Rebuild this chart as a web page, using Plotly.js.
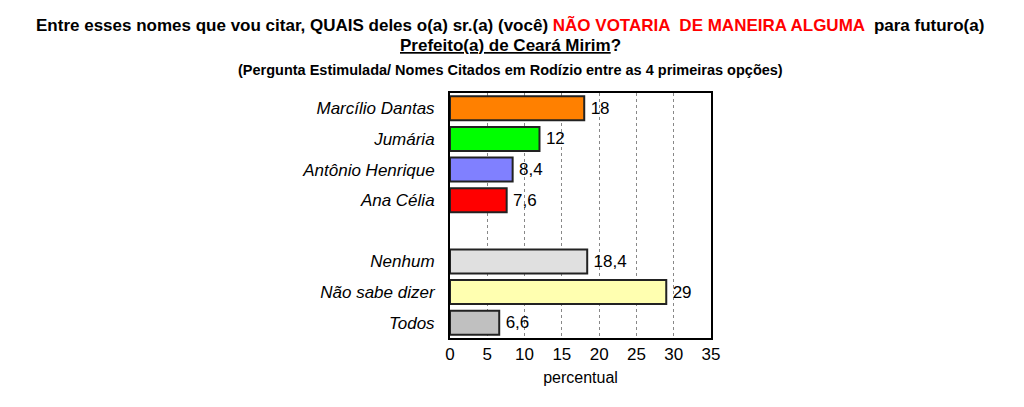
<!DOCTYPE html>
<html>
<head>
<meta charset="utf-8">
<script src="https://cdn.plot.ly/plotly-3.0.1.min.js"></script>
<style>html,body{margin:0;padding:0;background:#fff;}</style>
</head>
<body>
<div id="chart" style="width:1024px;height:407px;"></div>
<script>
const categories = ["Marcílio Dantas", "Jumária", "Antônio Henrique", "Ana Célia", " ", "Nenhum", "Não sabe dizer", "Todos"];
const values = [18, 12, 8.4, 7.6, null, 18.4, 29, 6.6];
const valueLabels = ["18", "12", "8,4", "7,6", "", "18,4", "29", "6,6"];
const barColors = ["#FF8000", "#00FF00", "#8080FF", "#FF0000", "#FFFFFF", "#E0E0E0", "#FFFFB0", "#C0C0C0"];
const xTicks = [0, 5, 10, 15, 20, 25, 30, 35];

const trace = {
  type: "bar",
  orientation: "h",
  y: categories,
  x: values,
  width: 0.78,
  marker: { color: barColors, line: { color: "#222222", width: 2 } },
  text: valueLabels.map(function (s) { return s ? "\u2009" + s : s; }),
  textposition: "outside",
  cliponaxis: false,
  textfont: { family: "Liberation Sans, Arial, sans-serif", size: 17, color: "#000" },
  hoverinfo: "none"
};

const titleFont = "Liberation Sans Narrow, Arial Narrow, Liberation Sans, sans-serif";
const layout = {
  width: 1024, height: 407,
  margin: { l: 450, r: 313, t: 93, b: 69 },
  paper_bgcolor: "#fff", plot_bgcolor: "#fff",
  showlegend: false,
  font: { family: "Liberation Sans, Arial, sans-serif", color: "#000" },
  xaxis: {
    range: [0, 35], tickvals: xTicks, ticktext: xTicks.map(String),
    showgrid: true, gridcolor: "#888", griddash: "dot", gridwidth: 1,
    zeroline: false, showline: true, mirror: true, linecolor: "#000", linewidth: 2,
    ticks: "", tickfont: { size: 17 },
    title: { text: "percentual", font: { size: 16 }, standoff: 8 }
  },
  yaxis: {
    type: "category", categoryorder: "array", categoryarray: categories,
    autorange: "reversed", showgrid: false, zeroline: false,
    showline: true, mirror: true, linecolor: "#000", linewidth: 2,
    ticks: "", ticklabelstandoff: 10,
    tickfont: { size: 17, style: "italic" }
  },
  annotations: [
    { xref: "paper", yref: "paper", x: 0.23, y: 1, xanchor: "center", yanchor: "bottom",
      yshift: 56, showarrow: false,
      text: "<b>Entre esses nomes que vou citar, QUAIS deles o(a) sr.(a) (você) <span style='color:#FF0000'>NÃO VOTARIA  DE MANEIRA ALGUMA</span>  para futuro(a)</b>",
      font: { family: titleFont, size: 17, color: "#000" } },
    { xref: "paper", yref: "paper", x: 0.23, y: 1, xanchor: "center", yanchor: "bottom",
      yshift: 36, showarrow: false,
      text: "<b><span style='text-decoration:underline'>Prefeito(a) de Ceará Mirim</span>?</b>",
      font: { family: titleFont, size: 17, color: "#000" } },
    { xref: "paper", yref: "paper", x: 0.23, y: 1, xanchor: "center", yanchor: "bottom",
      yshift: 13, showarrow: false,
      text: "<b>(Pergunta Estimulada/ Nomes Citados em Rodízio entre as 4 primeiras opções)</b>",
      font: { family: titleFont, size: 14.5, color: "#000" } }
  ]
};

Plotly.newPlot("chart", [trace], layout, { staticPlot: true, displayModeBar: false });
</script>
</body>
</html>
